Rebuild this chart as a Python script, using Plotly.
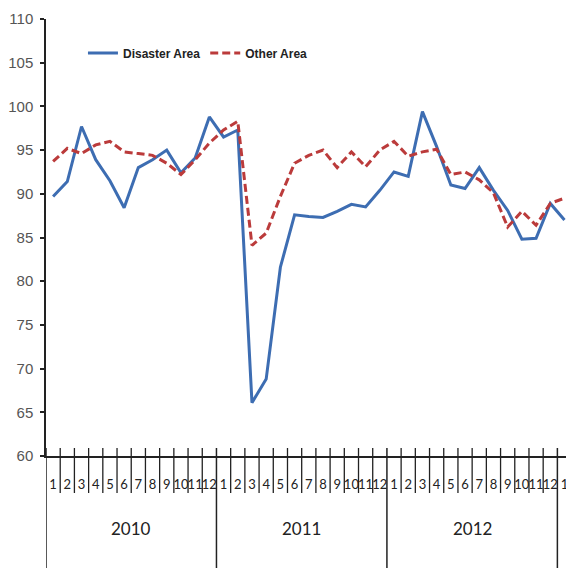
import plotly.graph_objects as go

years = ["2010", "2011", "2012"]
month_labels = [str(m) for m in range(1, 13)] * 3 + ["1"]

disaster_area = [89.7, 91.4, 97.7, 93.9, 91.5, 88.4, 93.0, 93.9, 95.0, 92.4, 94.1, 98.8,
                 96.5, 97.3, 66.1, 68.8, 81.6, 87.6, 87.4, 87.3, 88.0, 88.8, 88.5, 90.4,
                 92.5, 92.0, 99.4, 95.4, 91.0, 90.6, 93.0, 90.4, 88.1, 84.8, 84.9, 88.9,
                 87.0]
other_area = [93.7, 95.2, 94.6, 95.6, 96.0, 94.8, 94.6, 94.4, 93.5, 92.2, 93.9, 95.8,
              97.3, 98.3, 84.1, 85.5, 89.7, 93.5, 94.4, 95.0, 93.0, 94.8, 93.1, 95.0,
              96.0, 94.3, 94.8, 95.1, 92.2, 92.5, 91.6, 90.1, 86.2, 88.0, 86.4, 88.9,
              89.5]

y_ticks = list(range(60, 111, 5))

# page body has an 8px default margin, so the figure is 8px smaller than the window
W, H = 566, 560
ML, MR, MT, MB = 38, 0, 11, 112
plot_h = H - MT - MB

x = list(range(len(month_labels)))

fig = go.Figure()
fig.add_trace(go.Scatter(x=x, y=disaster_area, mode="lines", name="Disaster Area",
                         line=dict(color="#3d6db2", width=3), cliponaxis=False))
fig.add_trace(go.Scatter(x=x, y=other_area, mode="lines", name="Other Area",
                         line=dict(color="#bb3b3b", width=3, dash="8px,4px"), cliponaxis=False))

def py(px_below_axis):
    # convert pixel offset (positive = below x axis) to paper y
    return -px_below_axis / plot_h

shapes = []
n = len(month_labels)
for i in range(n + 1):
    b = i - 0.5
    is_year = (i % 12 == 0)
    shapes.append(dict(type="line", xref="x", yref="paper", x0=b, x1=b,
                       y0=py(-8), y1=py(MB if is_year else 37),
                       line=dict(color="#222", width=1.5 if is_year else 1.3)))

annotations = []
for k, yr in enumerate(years):
    annotations.append(dict(x=k * 12 + 5.5, y=py(72), xref="x", yref="paper",
                            text=yr, showarrow=False,
                            font=dict(family="Lato, Carlito, sans-serif", size=17, color="#222"),
                            yanchor="middle"))

fig.update_layout(
    width=W, height=H,
    margin=dict(l=ML, r=MR, t=MT, b=MB, pad=0, autoexpand=False),
    paper_bgcolor="white", plot_bgcolor="white",
    showlegend=True,
    legend=dict(orientation="h", x=0.07, y=0.922, xanchor="left", yanchor="middle",
                bgcolor="rgba(0,0,0,0)",
                font=dict(family="Liberation Sans Narrow, Arial Narrow, sans-serif",
                          size=12, color="#222", weight="bold"),
                itemwidth=30, tracegroupgap=0),
    xaxis=dict(range=[-0.5, 36.67], tickmode="array", tickvals=x, ticktext=month_labels,
               ticks="", showgrid=False, zeroline=False, automargin=False,
               showline=True, linecolor="#222", linewidth=1.5,
               tickangle=0, ticklabelstandoff=16,
               tickfont=dict(family="Lato, Carlito, sans-serif", size=13, color="#222")),
    yaxis=dict(range=[60, 110], tickmode="array", tickvals=y_ticks,
               ticks="outside", ticklen=4, tickcolor="#222", tickwidth=1.5,
               showgrid=False, zeroline=False, automargin=False,
               showline=True, linecolor="#222", linewidth=1.5,
               ticklabelstandoff=4,
               tickfont=dict(family="Liberation Sans Narrow, Arial Narrow, sans-serif",
                             size=15, color="#555")),
    shapes=shapes, annotations=annotations,
)

fig.write_html("out.html")
